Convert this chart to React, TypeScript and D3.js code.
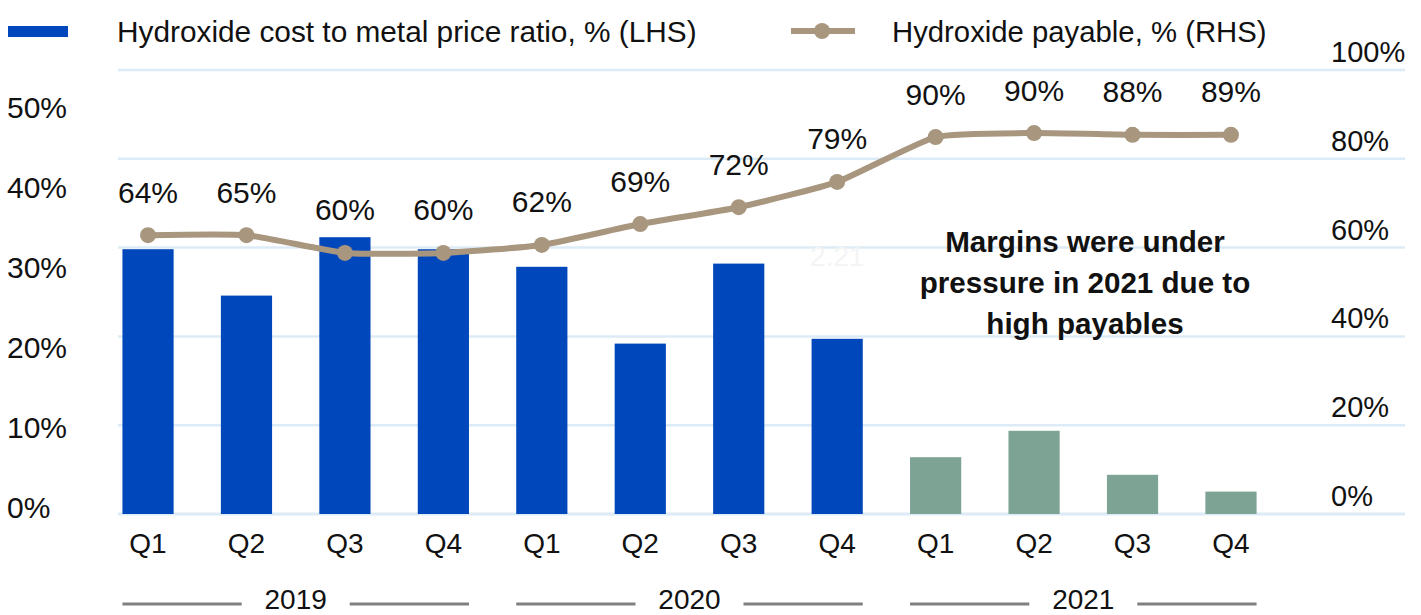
import * as d3 from 'd3'

const quarters = ['Q1', 'Q2', 'Q3', 'Q4', 'Q1', 'Q2', 'Q3', 'Q4', 'Q1', 'Q2', 'Q3', 'Q4']
const years = ['2019', '2019', '2019', '2019', '2020', '2020', '2020', '2020', '2021', '2021', '2021', '2021']
const yearList = ['2019', '2020', '2021']

// cost to metal price ratio, % (LHS)
const costRatio = [33.1, 27.3, 34.6, 33.1, 30.9, 21.3, 31.3, 21.9, 7.1, 10.4, 4.9, 2.8]
// payable as plotted against the RHS axis
const payablePlotted = [62.8, 62.8, 58.8, 58.8, 60.6, 65.3, 69.1, 74.8, 84.9, 85.8, 85.4, 85.4]
const payableLabels = ['64%', '65%', '60%', '60%', '62%', '69%', '72%', '79%', '90%', '90%', '88%', '89%']

const leftTicks = [0, 10, 20, 30, 40, 50]
const rightTicks = [0, 20, 40, 60, 80, 100]

const annotation = ['Margins were under', 'pressure in 2021 due to', 'high payables']

const BLUE = '#0047bb'
const GREEN = '#7da394'
const TAN = '#a8967f'
const GRID = '#dcebf5'
const FONT = '"Liberation Sans", Arial, Helvetica, sans-serif'

const W = 1421
const H = 615

const App = () => {
  const keys = quarters.map((q, i) => `${years[i]}-${q}`)

  const x = d3
    .scaleBand<string>()
    .domain(keys)
    .range([98.8, 1280.2])
    .paddingInner(0.48)
    .paddingOuter(0.24)

  const yL = d3.scaleLinear().domain([0, 55.5]).range([514, 70])
  const yR = d3.scaleLinear().domain([0, 100]).range([514, 70])

  const cx = (i: number) => (x(keys[i]) ?? 0) + x.bandwidth() / 2

  const line = d3
    .line<number>()
    .x((_, i) => cx(i))
    .y((d) => yR(d))
    .curve(d3.curveCardinal.tension(0.5))

  return (
    <div style={{ position: 'absolute', left: 0, top: 0 }}>
      <svg width={W} height={H} style={{ display: 'block', background: '#fff' }} fontFamily={FONT}>
        {/* legend */}
        <rect x={8} y={26} width={60} height={11} fill={BLUE} />
        <text x={117} y={31} fontSize={29.8} dominantBaseline="central" fill="#111">
          Hydroxide cost to metal price ratio, % (LHS)
        </text>
        <line x1={791} x2={855} y1={31} y2={31} stroke={TAN} strokeWidth={6} />
        <circle cx={822} cy={31} r={8} fill={TAN} />
        <text x={892} y={31} fontSize={29.3} dominantBaseline="central" fill="#111">
          Hydroxide payable, % (RHS)
        </text>

        {/* gridlines */}
        {rightTicks.map((t) => (
          <line
            key={t}
            x1={118}
            x2={1405}
            y1={yR(t)}
            y2={yR(t)}
            stroke={GRID}
            strokeWidth={t === 0 ? 3 : 2.5}
          />
        ))}

        {/* left axis */}
        {leftTicks.map((t) => (
          <text key={t} x={7} y={yL(t) - 7} fontSize={30} dominantBaseline="central" fill="#111">
            {`${t}%`}
          </text>
        ))}

        {/* right axis */}
        {rightTicks.map((t) => (
          <text key={t} x={1331} y={yR(t) - 18} fontSize={29} dominantBaseline="central" fill="#111">
            {`${t}%`}
          </text>
        ))}

        {/* bars */}
        {costRatio.map((v, i) => (
          <rect
            key={keys[i]}
            x={x(keys[i])}
            y={yL(v)}
            width={x.bandwidth()}
            height={yL(0) - yL(v)}
            fill={years[i] === '2021' ? GREEN : BLUE}
          />
        ))}

        {/* faint hidden label */}
        <text x={cx(7)} y={256} fontSize={28} textAnchor="middle" dominantBaseline="central" fill="#f4f4f4">
          2.21
        </text>

        {/* payable line */}
        <path d={line(payablePlotted) ?? ''} fill="none" stroke={TAN} strokeWidth={6} strokeLinejoin="round" />
        {payablePlotted.map((v, i) => (
          <circle key={keys[i]} cx={cx(i)} cy={yR(v)} r={8} fill={TAN} />
        ))}
        {payablePlotted.map((v, i) => (
          <text
            key={keys[i]}
            x={cx(i)}
            y={yR(v) - 43}
            fontSize={30}
            textAnchor="middle"
            dominantBaseline="central"
            fill="#111"
          >
            {payableLabels[i]}
          </text>
        ))}

        {/* annotation */}
        {annotation.map((s, i) => (
          <text
            key={s}
            x={1085}
            y={241 + i * 41}
            fontSize={29.6}
            fontWeight="bold"
            textAnchor="middle"
            dominantBaseline="central"
            fill="#111"
          >
            {s}
          </text>
        ))}

        {/* quarter labels */}
        {quarters.map((q, i) => (
          <text
            key={keys[i]}
            x={cx(i)}
            y={543}
            fontSize={28}
            textAnchor="middle"
            dominantBaseline="central"
            fill="#111"
          >
            {q}
          </text>
        ))}

        {/* year groups */}
        {yearList.map((yr) => {
          const idx = years.map((y, i) => (y === yr ? i : -1)).filter((i) => i >= 0)
          const left = x(keys[idx[0]]) ?? 0
          const right = (x(keys[idx[idx.length - 1]]) ?? 0) + x.bandwidth()
          const mid = (left + right) / 2
          return (
            <g key={yr}>
              <line x1={left} x2={mid - 54} y1={604} y2={604} stroke="#808080" strokeWidth={3} />
              <line x1={mid + 54} x2={right} y1={604} y2={604} stroke="#808080" strokeWidth={3} />
              <text x={mid} y={599} fontSize={28} textAnchor="middle" dominantBaseline="central" fill="#111">
                {yr}
              </text>
            </g>
          )
        })}
      </svg>
    </div>
  )
}

export default App
